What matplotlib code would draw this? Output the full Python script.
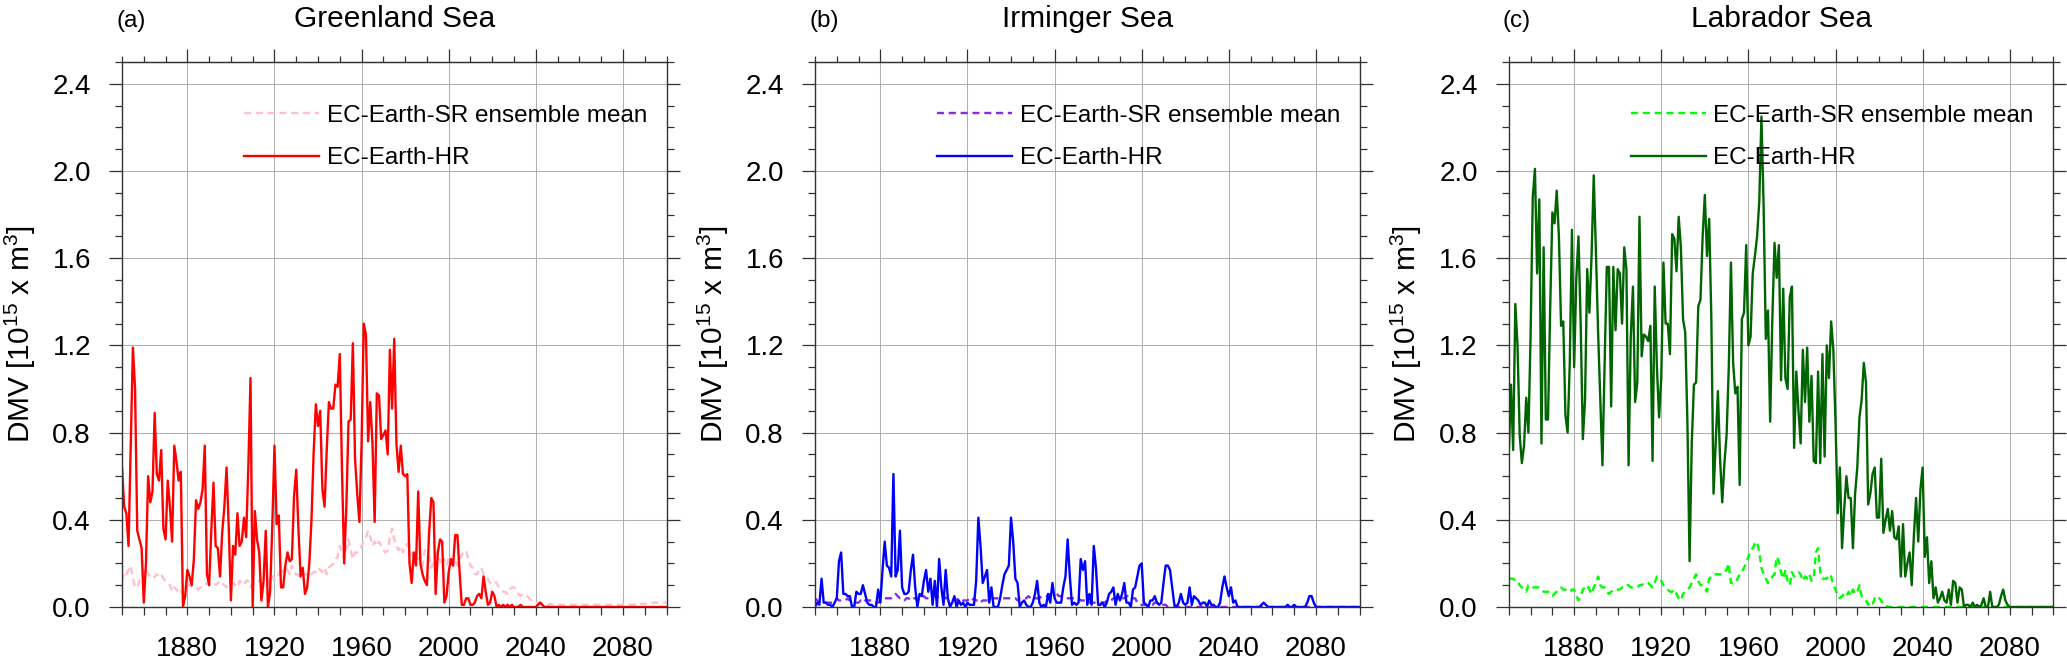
import numpy as np
import matplotlib
matplotlib.use("Agg")
import matplotlib.pyplot as plt
from matplotlib.ticker import MultipleLocator, FormatStrFormatter

plt.rcParams['font.family'] = ['Liberation Sans', 'DejaVu Sans']
plt.rcParams['mathtext.default'] = 'regular'

# ==========================
# DATA (annual DMV, 1850-2100)
# ==========================
years = np.arange(1850, 2101)

greenland_hr = [
    0.64, 0.46, 0.43, 0.28, 0.74, 1.19, 1.00, 0.35, 0.31, 0.27,
    0.02, 0.20, 0.60, 0.48, 0.53, 0.89, 0.61, 0.58, 0.72, 0.36,
    0.31, 0.58, 0.46, 0.30, 0.74, 0.67, 0.58, 0.62, 0.00, 0.05,
    0.17, 0.14, 0.10, 0.22, 0.49, 0.45, 0.48, 0.54, 0.74, 0.15,
    0.10, 0.35, 0.57, 0.28, 0.27, 0.14, 0.34, 0.46, 0.64, 0.37,
    0.03, 0.28, 0.24, 0.43, 0.28, 0.30, 0.41, 0.32, 0.64, 1.05,
    0.00, 0.44, 0.31, 0.25, 0.03, 0.12, 0.35, 0.00, 0.07, 0.37,
    0.74, 0.38, 0.42, 0.09, 0.09, 0.19, 0.25, 0.21, 0.22, 0.51,
    0.63, 0.36, 0.14, 0.18, 0.06, 0.09, 0.20, 0.40, 0.71, 0.93,
    0.83, 0.90, 0.54, 0.46, 0.72, 0.94, 0.91, 0.91, 1.02, 1.01,
    1.16, 0.63, 0.20, 0.46, 0.85, 0.86, 1.21, 0.68, 0.52, 0.39,
    0.75, 1.30, 1.25, 0.76, 0.94, 0.75, 0.39, 0.98, 0.97, 0.77,
    0.79, 0.81, 0.70, 1.18, 0.91, 1.23, 0.75, 0.62, 0.74, 0.61,
    0.60, 0.61, 0.20, 0.11, 0.25, 0.19, 0.53, 0.20, 0.15, 0.12,
    0.10, 0.34, 0.50, 0.48, 0.06, 0.25, 0.31, 0.30, 0.02, 0.05,
    0.16, 0.22, 0.19, 0.33, 0.33, 0.16, 0.01, 0.01, 0.04, 0.04,
    0.01, 0.01, 0.02, 0.05, 0.06, 0.04, 0.14, 0.07, 0.01, 0.02,
    0.07, 0.05, 0.00, 0.01, 0.00, 0.01, 0.00, 0.01, 0.00, 0.01,
    0.00, 0.00, 0.00, 0.01, 0.00, 0.00, 0.00, 0.00, 0.00, 0.00,
    0.00, 0.01, 0.02, 0.01, 0.00, 0.00, 0.00, 0.00, 0.00, 0.00,
    0.00, 0.00, 0.00, 0.00, 0.00, 0.00, 0.00, 0.00, 0.00, 0.00,
    0.00, 0.00, 0.00, 0.00, 0.00, 0.00, 0.00, 0.00, 0.00, 0.00,
    0.00, 0.00, 0.00, 0.00, 0.00, 0.00, 0.00, 0.00, 0.00, 0.00,
    0.00, 0.00, 0.00, 0.00, 0.00, 0.00, 0.00, 0.00, 0.00, 0.00,
    0.00, 0.00, 0.00, 0.00, 0.00, 0.00, 0.00, 0.00, 0.00, 0.00,
    0.00,
]
greenland_sr = [
    0.12, 0.16, 0.15, 0.17, 0.19, 0.13, 0.09, 0.09, 0.12, 0.13,
    0.14, 0.18, 0.15, 0.14, 0.13, 0.14, 0.15, 0.14, 0.15, 0.13,
    0.12, 0.11, 0.10, 0.07, 0.09, 0.08, 0.07, 0.06, 0.09, 0.09,
    0.11, 0.10, 0.09, 0.09, 0.09, 0.08, 0.09, 0.09, 0.10, 0.11,
    0.10, 0.11, 0.11, 0.10, 0.11, 0.12, 0.11, 0.10, 0.09, 0.11,
    0.11, 0.11, 0.10, 0.09, 0.12, 0.11, 0.10, 0.12, 0.12, 0.09,
    0.11, 0.12, 0.12, 0.12, 0.11, 0.12, 0.12, 0.11, 0.13, 0.15,
    0.12, 0.13, 0.15, 0.18, 0.16, 0.19, 0.17, 0.15, 0.19, 0.16,
    0.15, 0.15, 0.13, 0.15, 0.15, 0.15, 0.16, 0.15, 0.16, 0.16,
    0.18, 0.17, 0.16, 0.18, 0.15, 0.18, 0.19, 0.20, 0.22, 0.23,
    0.28, 0.25, 0.22, 0.26, 0.31, 0.26, 0.22, 0.25, 0.25, 0.26,
    0.28, 0.30, 0.32, 0.35, 0.32, 0.28, 0.30, 0.28, 0.30, 0.28,
    0.26, 0.25, 0.26, 0.32, 0.36, 0.31, 0.28, 0.26, 0.28, 0.25,
    0.28, 0.29, 0.26, 0.25, 0.22, 0.26, 0.22, 0.23, 0.19, 0.26,
    0.25, 0.23, 0.18, 0.20, 0.25, 0.22, 0.22, 0.19, 0.22, 0.19,
    0.22, 0.20, 0.19, 0.22, 0.19, 0.21, 0.24, 0.25, 0.26, 0.22,
    0.19, 0.18, 0.15, 0.15, 0.17, 0.18, 0.15, 0.14, 0.13, 0.11,
    0.11, 0.12, 0.11, 0.09, 0.08, 0.07, 0.07, 0.06, 0.08, 0.09,
    0.09, 0.08, 0.06, 0.05, 0.06, 0.06, 0.05, 0.04, 0.03, 0.02,
    0.02, 0.02, 0.02, 0.02, 0.015, 0.01, 0.01, 0.015, 0.01, 0.01,
    0.01, 0.01, 0.01, 0.01, 0.01, 0.01, 0.01, 0.01, 0.01, 0.01,
    0.01, 0.01, 0.01, 0.01, 0.01, 0.01, 0.01, 0.01, 0.01, 0.01,
    0.01, 0.01, 0.01, 0.01, 0.01, 0.01, 0.01, 0.01, 0.01, 0.01,
    0.01, 0.01, 0.01, 0.01, 0.01, 0.01, 0.015, 0.01, 0.015, 0.015,
    0.015, 0.015, 0.015, 0.015, 0.02, 0.02, 0.02, 0.02, 0.02, 0.02,
    0.02,
]

irminger_hr = [
    0.00, 0.02, 0.01, 0.13, 0.02, 0.02, 0.01, 0.01, 0.00, 0.02,
    0.04, 0.21, 0.25, 0.06, 0.06, 0.05, 0.05, 0.00, 0.00, 0.07,
    0.06, 0.06, 0.10, 0.06, 0.02, 0.01, 0.01, 0.00, 0.00, 0.08,
    0.02, 0.17, 0.30, 0.19, 0.18, 0.14, 0.61, 0.14, 0.17, 0.35,
    0.09, 0.06, 0.06, 0.07, 0.17, 0.24, 0.09, 0.00, 0.06, 0.05,
    0.12, 0.17, 0.07, 0.13, 0.01, 0.12, 0.00, 0.22, 0.09, 0.01,
    0.17, 0.04, 0.00, 0.02, 0.05, 0.00, 0.03, 0.01, 0.02, 0.00,
    0.02, 0.01, 0.01, 0.01, 0.12, 0.41, 0.28, 0.11, 0.14, 0.17,
    0.02, 0.09, 0.00, 0.00, 0.00, 0.04, 0.10, 0.15, 0.17, 0.19,
    0.41, 0.30, 0.13, 0.11, 0.00, 0.02, 0.03, 0.01, 0.00, 0.00,
    0.02, 0.06, 0.12, 0.02, 0.00, 0.01, 0.00, 0.06, 0.02, 0.11,
    0.04, 0.02, 0.02, 0.02, 0.09, 0.14, 0.31, 0.14, 0.01, 0.02,
    0.01, 0.02, 0.22, 0.17, 0.21, 0.01, 0.06, 0.01, 0.28, 0.18,
    0.01, 0.01, 0.02, 0.00, 0.02, 0.06, 0.07, 0.09, 0.01, 0.06,
    0.03, 0.06, 0.11, 0.02, 0.02, 0.00, 0.08, 0.09, 0.14, 0.19,
    0.20, 0.02, 0.01, 0.00, 0.03, 0.03, 0.05, 0.02, 0.01, 0.02,
    0.11, 0.19, 0.19, 0.17, 0.09, 0.01, 0.00, 0.02, 0.06, 0.02,
    0.01, 0.02, 0.09, 0.01, 0.05, 0.04, 0.03, 0.01, 0.02, 0.02,
    0.00, 0.03, 0.01, 0.01, 0.00, 0.00, 0.02, 0.09, 0.14, 0.09,
    0.05, 0.09, 0.02, 0.03, 0.00, 0.00, 0.00, 0.00, 0.00, 0.00,
    0.00, 0.00, 0.00, 0.00, 0.00, 0.01, 0.02, 0.01, 0.00, 0.00,
    0.00, 0.00, 0.00, 0.00, 0.00, 0.00, 0.00, 0.01, 0.00, 0.00,
    0.01, 0.00, 0.00, 0.00, 0.00, 0.00, 0.02, 0.05, 0.05, 0.02,
    0.00, 0.00, 0.00, 0.00, 0.00, 0.00, 0.00, 0.00, 0.00, 0.00,
    0.00, 0.00, 0.00, 0.00, 0.00, 0.00, 0.00, 0.00, 0.00, 0.00,
    0.00,
]
irminger_sr = [
    0.04, 0.03, 0.02, 0.02, 0.02, 0.02, 0.02, 0.02, 0.02, 0.03,
    0.04, 0.03, 0.03, 0.03, 0.03, 0.04, 0.03, 0.02, 0.02, 0.02,
    0.02, 0.03, 0.02, 0.03, 0.03, 0.03, 0.03, 0.02, 0.02, 0.02,
    0.03, 0.03, 0.04, 0.04, 0.04, 0.04, 0.05, 0.06, 0.05, 0.04,
    0.04, 0.03, 0.04, 0.04, 0.03, 0.04, 0.04, 0.03, 0.04, 0.04,
    0.05, 0.04, 0.04, 0.04, 0.05, 0.05, 0.05, 0.04, 0.05, 0.05,
    0.04, 0.04, 0.04, 0.04, 0.04, 0.03, 0.04, 0.04, 0.03, 0.03,
    0.03, 0.04, 0.03, 0.04, 0.03, 0.03, 0.02, 0.03, 0.03, 0.03,
    0.03, 0.03, 0.04, 0.04, 0.04, 0.04, 0.04, 0.04, 0.04, 0.04,
    0.04, 0.04, 0.04, 0.03, 0.04, 0.04, 0.04, 0.04, 0.05, 0.04,
    0.04, 0.04, 0.04, 0.04, 0.05, 0.05, 0.05, 0.05, 0.06, 0.06,
    0.06, 0.06, 0.05, 0.05, 0.05, 0.05, 0.04, 0.04, 0.04, 0.04,
    0.04, 0.04, 0.03, 0.03, 0.03, 0.02, 0.02, 0.02, 0.02, 0.02,
    0.02, 0.02, 0.02, 0.02, 0.03, 0.03, 0.03, 0.04, 0.04, 0.04,
    0.04, 0.04, 0.04, 0.05, 0.05, 0.05, 0.04, 0.04, 0.02, 0.01,
    0.01, 0.01, 0.01, 0.01, 0.01, 0.01, 0.02, 0.02, 0.01, 0.01,
    0.01, 0.01, 0.00, 0.00, 0.00, 0.00, 0.00, 0.00, 0.00, 0.00,
    0.00, 0.00, 0.00, 0.00, 0.00, 0.00, 0.00, 0.00, 0.00, 0.00,
    0.00, 0.00, 0.00, 0.00, 0.00, 0.00, 0.00, 0.00, 0.00, 0.00,
    0.00, 0.00, 0.00, 0.00, 0.00, 0.00, 0.00, 0.00, 0.00, 0.00,
    0.00, 0.00, 0.00, 0.00, 0.00, 0.00, 0.00, 0.00, 0.00, 0.00,
    0.00, 0.00, 0.00, 0.00, 0.00, 0.00, 0.00, 0.00, 0.00, 0.00,
    0.00, 0.00, 0.00, 0.00, 0.00, 0.00, 0.00, 0.00, 0.00, 0.00,
    0.00, 0.00, 0.00, 0.00, 0.00, 0.00, 0.00, 0.00, 0.00, 0.00,
    0.00, 0.00, 0.00, 0.00, 0.00, 0.00, 0.00, 0.00, 0.00, 0.00,
    0.00,
]

labrador_hr = [
    0.71, 1.02, 0.72, 1.39, 1.20, 0.79, 0.66, 0.74, 0.96, 0.80,
    1.24, 1.88, 2.01, 1.53, 1.87, 0.75, 1.65, 0.86, 0.86, 1.37,
    1.81, 1.76, 1.91, 1.70, 1.29, 1.31, 0.88, 0.80, 1.12, 1.73,
    1.10, 1.51, 1.70, 1.30, 0.77, 0.95, 1.55, 1.35, 1.61, 1.98,
    1.63, 1.26, 0.95, 0.65, 1.12, 1.56, 1.56, 0.92, 1.56, 1.27,
    1.55, 1.53, 1.30, 1.65, 1.55, 0.65, 1.24, 1.47, 0.94, 1.03,
    1.79, 1.15, 1.25, 1.24, 1.22, 1.29, 0.67, 1.47, 1.10, 0.87,
    1.05, 1.58, 1.30, 1.30, 1.16, 1.71, 1.69, 1.54, 1.79, 1.65,
    1.32, 1.26, 0.85, 0.21, 0.75, 1.02, 1.03, 1.38, 1.41, 1.70,
    1.89, 1.61, 1.78, 1.32, 0.52, 0.75, 0.99, 0.68, 0.48, 0.66,
    0.79, 1.10, 1.58, 1.12, 0.98, 1.01, 0.56, 1.32, 1.35, 1.66,
    1.20, 1.24, 1.53, 1.61, 1.70, 1.86, 2.25, 1.84, 1.23, 1.36,
    0.85, 1.32, 1.67, 1.51, 1.66, 1.04, 1.46, 1.05, 1.00, 1.42,
    1.47, 0.73, 1.08, 0.90, 0.75, 1.18, 0.94, 1.19, 0.85, 1.06,
    0.67, 0.66, 1.08, 0.66, 1.16, 0.69, 1.20, 1.05, 1.31, 1.18,
    0.85, 0.43, 0.64, 0.27, 0.45, 0.60, 0.50, 0.50, 0.27, 0.52,
    0.64, 0.87, 0.95, 1.12, 1.03, 0.47, 0.52, 0.61, 0.64, 0.41,
    0.41, 0.68, 0.34, 0.40, 0.45, 0.35, 0.44, 0.32, 0.31, 0.37,
    0.14, 0.38, 0.14, 0.20, 0.25, 0.10, 0.33, 0.50, 0.30, 0.54,
    0.64, 0.23, 0.32, 0.11, 0.21, 0.04, 0.09, 0.02, 0.04, 0.07,
    0.03, 0.02, 0.08, 0.01, 0.12, 0.11, 0.02, 0.09, 0.08, 0.00,
    0.01, 0.01, 0.00, 0.02, 0.00, 0.01, 0.00, 0.01, 0.04, 0.00,
    0.00, 0.07, 0.00, 0.00, 0.00, 0.01, 0.05, 0.08, 0.03, 0.01,
    0.00, 0.00, 0.00, 0.00, 0.00, 0.00, 0.00, 0.00, 0.00, 0.00,
    0.00, 0.00, 0.00, 0.00, 0.00, 0.00, 0.00, 0.00, 0.00, 0.00,
    0.00,
]
labrador_sr = [
    0.13, 0.13, 0.13, 0.12, 0.12, 0.10, 0.09, 0.08, 0.07, 0.10,
    0.10, 0.09, 0.09, 0.09, 0.09, 0.08, 0.07, 0.07, 0.07, 0.06,
    0.05, 0.06, 0.07, 0.08, 0.09, 0.08, 0.08, 0.07, 0.07, 0.08,
    0.08, 0.05, 0.03, 0.05, 0.08, 0.09, 0.10, 0.08, 0.06, 0.09,
    0.11, 0.14, 0.10, 0.09, 0.09, 0.07, 0.06, 0.07, 0.08, 0.08,
    0.08, 0.08, 0.09, 0.09, 0.10, 0.10, 0.09, 0.09, 0.09, 0.09,
    0.10, 0.10, 0.11, 0.11, 0.11, 0.10, 0.09, 0.11, 0.14, 0.13,
    0.12, 0.10, 0.09, 0.08, 0.07, 0.07, 0.08, 0.06, 0.04, 0.03,
    0.06, 0.07, 0.08, 0.09, 0.11, 0.13, 0.15, 0.12, 0.10, 0.10,
    0.09, 0.07, 0.13, 0.14, 0.15, 0.15, 0.15, 0.15, 0.15, 0.16,
    0.17, 0.20, 0.11, 0.11, 0.11, 0.13, 0.15, 0.16, 0.18, 0.20,
    0.23, 0.26, 0.27, 0.29, 0.30, 0.25, 0.18, 0.15, 0.13, 0.11,
    0.12, 0.14, 0.15, 0.23, 0.21, 0.16, 0.13, 0.17, 0.12, 0.10,
    0.16, 0.14, 0.15, 0.16, 0.15, 0.12, 0.14, 0.13, 0.15, 0.12,
    0.13, 0.25, 0.27, 0.16, 0.13, 0.13, 0.13, 0.15, 0.14, 0.10,
    0.08, 0.05, 0.04, 0.05, 0.06, 0.05, 0.07, 0.05, 0.08, 0.06,
    0.07, 0.10, 0.05, 0.04, 0.03, 0.01, 0.02, 0.01, 0.04, 0.03,
    0.04, 0.03, 0.01, 0.01, 0.00, 0.00, 0.00, 0.00, 0.00, 0.00,
    0.00, 0.00, 0.00, 0.00, 0.00, 0.00, 0.00, 0.00, 0.00, 0.00,
    0.00, 0.00, 0.00, 0.00, 0.00, 0.00, 0.00, 0.00, 0.00, 0.00,
    0.00, 0.00, 0.00, 0.00, 0.00, 0.00, 0.00, 0.00, 0.00, 0.00,
    0.00, 0.00, 0.00, 0.00, 0.00, 0.00, 0.00, 0.00, 0.00, 0.00,
    0.00, 0.00, 0.00, 0.00, 0.00, 0.00, 0.00, 0.00, 0.00, 0.00,
    0.00, 0.00, 0.00, 0.00, 0.00, 0.00, 0.00, 0.00, 0.00, 0.00,
    0.00, 0.00, 0.00, 0.00, 0.00, 0.00, 0.00, 0.00, 0.00, 0.00,
    0.00,
]

panel_tags = ["(a)", "(b)", "(c)"]
panel_titles = ["Greenland Sea", "Irminger Sea", "Labrador Sea"]
hr_series = [greenland_hr, irminger_hr, labrador_hr]
sr_series = [greenland_sr, irminger_sr, labrador_sr]
hr_colors = ["#ff0000", "#0000ff", "#006400"]
sr_colors = ["#ffc0cb", "#8a2be2", "#00ff00"]
sr_label = "EC-Earth-SR ensemble mean"
hr_label = "EC-Earth-HR"
x_major = [1880, 1920, 1960, 2000, 2040, 2080]
y_major = [0.0, 0.4, 0.8, 1.2, 1.6, 2.0, 2.4]

# ==========================
# FIGURE
# ==========================
W, H = 2067, 661
fig = plt.figure(figsize=(W / 100, H / 100), dpi=100)

ax_lefts = [122, 815, 1508.8]
ax_w, ax_top, ax_bot = 544.5, 62, 607

for i in range(3):
    ax = fig.add_axes([ax_lefts[i] / W, 1 - ax_bot / H, ax_w / W, (ax_bot - ax_top) / H])

    ax.plot(years, sr_series[i], color=sr_colors[i], lw=1.7,
            linestyle=(0, (3.0, 2.0)), label=sr_label)
    ax.plot(years, hr_series[i], color=hr_colors[i], lw=1.7, label=hr_label)

    ax.set_xlim(1850, 2100)
    ax.set_ylim(0, 2.5)
    ax.set_xticks(x_major)
    ax.xaxis.set_minor_locator(MultipleLocator(10))
    ax.set_yticks(y_major)
    ax.yaxis.set_minor_locator(MultipleLocator(0.1))
    ax.yaxis.set_major_formatter(FormatStrFormatter('%.1f'))

    ax.grid(True, which='major', color='#b0b0b0', lw=0.75)
    ax.set_axisbelow(True)
    for sp in ax.spines.values():
        sp.set_color('#333333')
        sp.set_linewidth(1.0)

    ax.tick_params(axis='x', which='both', direction='out', length=5.8, width=0.9,
                   color='#333333', labelsize=20, pad=15, top=False)
    ax.tick_params(axis='y', which='major', direction='out', length=9.4, width=0.9,
                   color='#333333', labelsize=20, pad=13, right=True)
    ax.tick_params(axis='y', which='minor', direction='out', length=4.7, width=0.9,
                   color='#333333', right=True)

    # top ticks are longer than the bottom ones
    top = ax.secondary_xaxis('top')
    top.set_xticks(x_major)
    top.xaxis.set_minor_locator(MultipleLocator(10))
    top.tick_params(which='major', direction='out', length=9.4, width=0.9,
                    color='#333333', labeltop=False)
    top.tick_params(which='minor', direction='out', length=4.5, width=0.9,
                    color='#333333')
    top.spines['top'].set_color('#333333')

    ax.set_ylabel("DMV [10$^{15}$ x m$^{3}$]", fontsize=21.5)
    ax.yaxis.set_label_coords(-0.155, 0.5)

    ax.text(0.5, 1.064, panel_titles[i], transform=ax.transAxes,
            ha='center', va='baseline', fontsize=21.5)
    ax.text(-0.011, 1.064, panel_tags[i], transform=ax.transAxes,
            ha='left', va='baseline', fontsize=17.5)

    ax.legend(loc='upper left', bbox_to_anchor=(0.224, 0.922), frameon=False,
              fontsize=17.5, handlelength=3.1, handletextpad=0.3,
              labelspacing=0.85, borderaxespad=0, borderpad=0)

fig.savefig("out.png", dpi=100)
